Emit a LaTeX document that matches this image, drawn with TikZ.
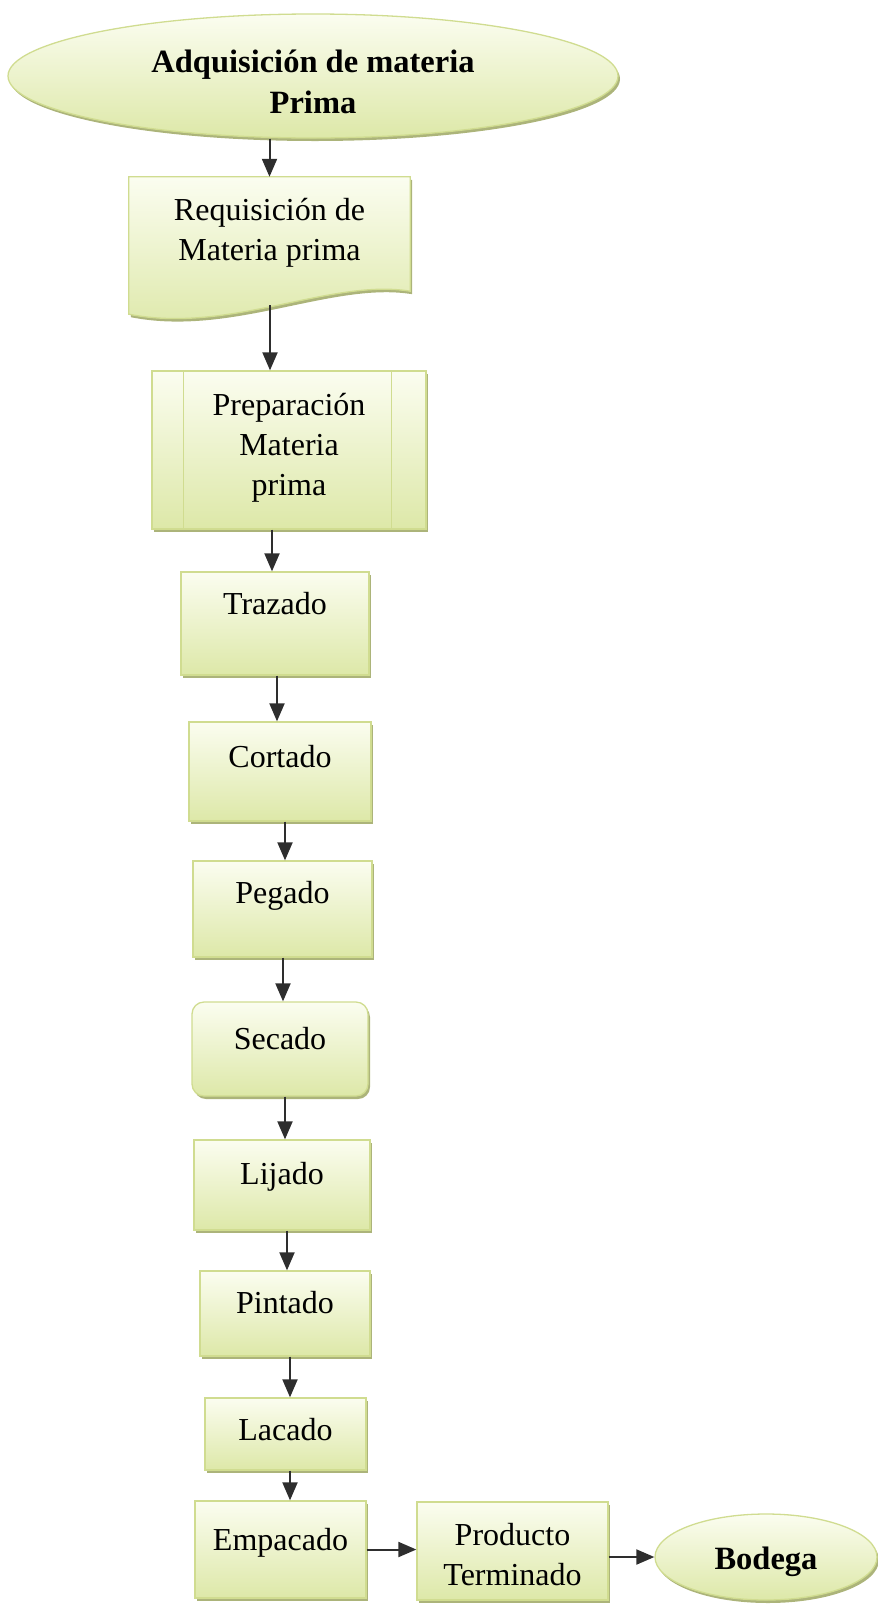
\documentclass[tikz,border=0pt]{standalone}
\usepackage{fontspec}
\setmainfont{Liberation Serif}
\usetikzlibrary{shapes.geometric,shadows,arrows.meta,calc,backgrounds}

\definecolor{topc}{HTML}{FBFDF0}
\definecolor{botc}{HTML}{DDE8A8}
\definecolor{edgec}{HTML}{D0DC90}
\definecolor{shadc}{HTML}{A3AC6C}
\definecolor{arrc}{HTML}{2E2E2E}

\begin{document}
\begin{tikzpicture}[x=1pt,y=-1pt,
  shadebox/.style={draw=edgec, line width=1.3pt, top color=topc, bottom color=botc,
    drop shadow={shadow xshift=2pt,shadow yshift=-3pt,fill=shadc,opacity=0.9}},
  procbox/.style={shadebox, rectangle, inner sep=0pt},
  termin/.style={shadebox, ellipse, inner sep=0pt},
  txt/.style={font=\fontsize{32}{40}\selectfont, text=black, inner sep=0pt, text height=22pt, text depth=7pt},
  mtxt/.style={font=\fontsize{32}{40}\selectfont, text=black, inner sep=0pt, align=center},
  btxt/.style={font=\bfseries\fontsize{32.5}{41}\selectfont, text=black, inner sep=0pt, align=center},
  bstxt/.style={font=\bfseries\fontsize{32.5}{41}\selectfont, text=black, inner sep=0pt, text height=22pt, text depth=7pt},
  arr/.style={draw=arrc, line width=2pt, -{Triangle[width=15pt,length=18pt]}}
]
\useasboundingbox (0,0) rectangle (878,1604);

% start terminal
\node[termin, minimum width=610pt, minimum height=124pt,
  label={[btxt,yshift=-6pt]center:{Adquisición de materia\\Prima}}] (adq) at (313,76) {};

% document shape
\node[rectangle, inner sep=0pt, minimum width=281pt, minimum height=137pt,
  label={[mtxt,yshift=12.5pt]center:{Requisición de\\Materia prima}}] (req) at (269.5,245.5) {};
\begin{scope}[on background layer]
\path[shadebox] (req.north west) -- (req.north east) -- ($(req.south east)+(0,-23)$)
  .. controls ($(req.south east)+(-80,-36)$) and ($(req.south west)+(101,20)$) .. (req.south west) -- cycle;
\end{scope}
\coordinate (reqb) at ($(req.south)+(0.5,-9)$);

% predefined process
\node[procbox, minimum width=274pt, minimum height=158pt,
  label={[mtxt,yshift=2pt]center:{Preparación\\Materia\\prima}}] (prep) at (289,450) {};
\draw[edgec, line width=1.3pt] ($(prep.north west)+(32,0)$) -- ($(prep.south west)+(32,0)$);
\draw[edgec, line width=1.3pt] ($(prep.north east)+(-35,0)$) -- ($(prep.south east)+(-35,0)$);

% process boxes
\node[procbox, minimum width=188pt, minimum height=103pt,
  label={[txt,yshift=16.5pt]center:Trazado}] (traz) at (275,623.5) {};
\node[procbox, minimum width=182pt, minimum height=99pt,
  label={[txt,yshift=11.5pt]center:Cortado}] (cort) at (280,771.5) {};
\node[procbox, minimum width=179pt, minimum height=96pt,
  label={[txt,yshift=13pt]center:Pegado}] (peg) at (282.5,909) {};
\node[procbox, rounded corners=12pt, minimum width=176pt, minimum height=94pt,
  label={[txt,yshift=7pt]center:Secado}] (sec) at (280,1049) {};
\node[procbox, minimum width=176pt, minimum height=90pt,
  label={[txt,yshift=8pt]center:Lijado}] (lij) at (282,1185) {};
\node[procbox, minimum width=170pt, minimum height=85pt,
  label={[txt,yshift=7.5pt]center:Pintado}] (pint) at (285,1313.5) {};
\node[procbox, minimum width=161pt, minimum height=72pt,
  label={[txt,yshift=1pt]center:Lacado}] (lac) at (285.5,1434) {};
\node[procbox, minimum width=171pt, minimum height=97pt,
  label={[txt,yshift=6.5pt]center:Empacado}] (emp) at (280.5,1549.5) {};
\node[procbox, minimum width=191pt, minimum height=98pt,
  label={[mtxt,yshift=-4pt]center:{Producto\\Terminado}}] (prod) at (512.5,1551) {};

% end terminal
\node[termin, minimum width=222pt, minimum height=86pt,
  label={[bstxt,yshift=-5pt]center:Bodega}] (bod) at (766,1557) {};

% connectors
\draw[arr] (req.north |- adq.south) -- (req.north);
\draw[arr] (reqb) -- (reqb |- prep.north);
\draw[arr] ([xshift=-3pt]traz.north |- prep.south) -- ([xshift=-3pt]traz.north);
\draw[arr] ([xshift=-3pt]cort.north |- traz.south) -- ([xshift=-3pt]cort.north);
\draw[arr] ([xshift=2.5pt]peg.north |- cort.south) -- ([xshift=2.5pt]peg.north);
\draw[arr] ([xshift=3pt]sec.north |- peg.south) -- ([xshift=3pt]sec.north);
\draw[arr] ([xshift=3pt]lij.north |- sec.south) -- ([xshift=3pt]lij.north);
\draw[arr] ([xshift=2pt]pint.north |- lij.south) -- ([xshift=2pt]pint.north);
\draw[arr] ([xshift=4.5pt]lac.north |- pint.south) -- ([xshift=4.5pt]lac.north);
\draw[arr] ([xshift=9.5pt]emp.north |- lac.south) -- ([xshift=9.5pt]emp.north);
\draw[arr] (emp.east) -- (emp.east -| prod.west);
\draw[arr] (prod.east |- bod.west) -- (bod.west);
\end{tikzpicture}
\end{document}
